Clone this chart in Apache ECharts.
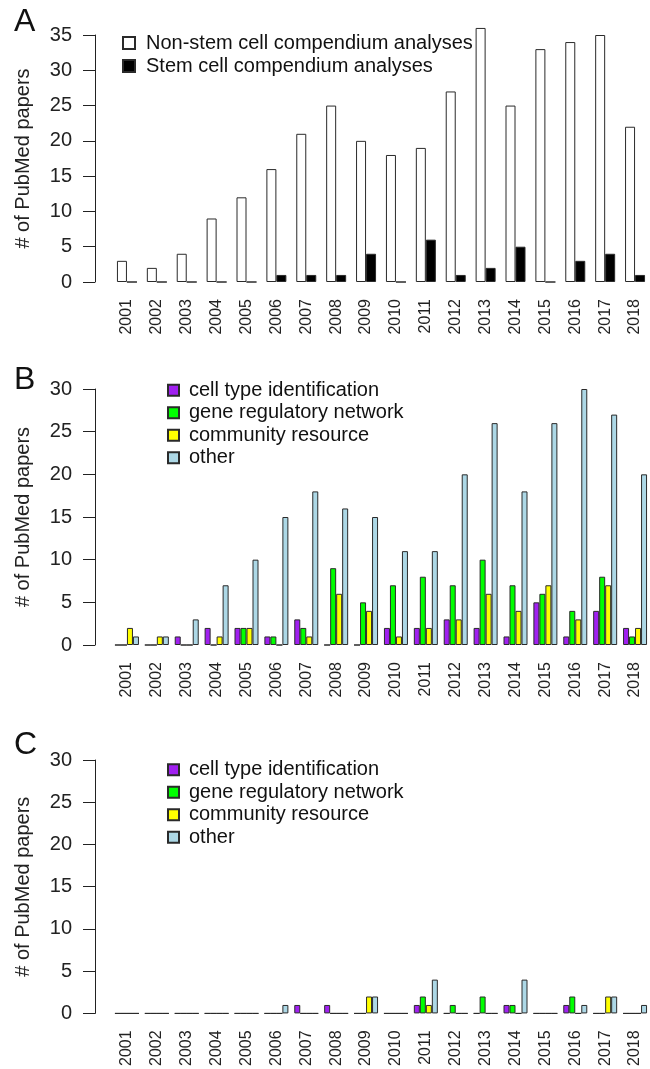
<!DOCTYPE html>
<html><head><meta charset="utf-8">
<script src="https://cdn.jsdelivr.net/npm/echarts@6/dist/echarts.min.js"></script>
<style>html,body{margin:0;padding:0;background:#fff}#c{width:650px;height:1069px}</style>
</head><body><div id="c"></div>
<script>
const years = ['2001','2002','2003','2004','2005','2006','2007','2008','2009','2010','2011','2012','2013','2014','2015','2016','2017','2018'];
// Panel A
const nonStemPapers = [3,2,4,9,12,16,21,25,20,18,19,27,36,25,33,34,35,22];
const stemPapers    = [0,0,0,0,0,1,1,1,4,0,6,1,2,5,0,3,4,1];
// Panel B (non-stem cell compendium analyses by type)
const bCellType   = [0,0,1,2,2,1,3,0,0,2,2,3,2,1,5,1,4,2];
const bGeneReg    = [0,0,0,0,2,1,2,9,5,7,8,7,10,7,6,4,8,1];
const bCommunity  = [2,1,0,1,2,0,1,6,4,1,2,3,6,4,7,3,7,2];
const bOther      = [1,1,3,7,10,15,18,16,15,11,11,20,26,18,26,30,27,20];
// Panel C (stem cell compendium analyses by type)
const cCellType   = [0,0,0,0,0,0,1,1,0,0,1,0,0,1,0,1,0,0];
const cGeneReg    = [0,0,0,0,0,0,0,0,0,0,2,1,2,1,0,2,0,0];
const cCommunity  = [0,0,0,0,0,0,0,0,2,0,1,0,0,0,0,0,2,0];
const cOther      = [0,0,0,0,0,1,0,0,2,0,4,0,0,4,0,1,2,1];
const legendA = ['Non-stem cell compendium analyses','Stem cell compendium analyses'];
const typeNames = ['cell type identification','gene regulatory network','community resource','other'];
const typeColors = ['#A020F0','#00FF00','#FFFF00','#ADD8E6'];
const yMaxA = 35, yMaxB = 30, yMaxC = 30;
const panelLetters = ['A','B','C'];

const FONT = "'Liberation Sans', Arial, Helvetica, sans-serif";
const BORDER = '#2a2a2a';
const chart = echarts.init(document.getElementById('c'), null, {renderer:'canvas'});

const grids = [
  {left:112, top:35,  width:540, height:247},
  {left:112, top:389, width:540, height:256},
  {left:112, top:760, width:540, height:257}
];
function xAxisFor(i){
  return {type:'category', gridIndex:i, data:years, boundaryGap:true,
    axisLine:{show:false}, axisTick:{show:false},
    axisLabel:{rotate:90, interval:0, fontSize:16, margin:17, color:'#222', fontFamily:FONT}};
}
function yAxisFor(i, max){
  return {type:'value', gridIndex:i, min:0, max:max, interval:5, offset:17,
    name:'# of PubMed papers', nameLocation:'middle', nameRotate:90, nameGap:62,
    nameTextStyle:{fontSize:20, color:'#222', fontFamily:FONT},
    axisLine:{show:true, lineStyle:{color:'#222', width:1}},
    axisTick:{show:true, inside:false, length:12, lineStyle:{color:'#222', width:1}},
    axisLabel:{fontSize:20, margin:23, color:'#222', fontFamily:FONT},
    splitLine:{show:false}};
}
const series = [
  {name:legendA[0], type:'bar', xAxisIndex:0, yAxisIndex:0, data:nonStemPapers, barWidth:10, barGap:'0%', clip:false,
   itemStyle:{color:'#fff', borderColor:BORDER, borderWidth:1}},
  {name:legendA[1], type:'bar', xAxisIndex:0, yAxisIndex:0, data:stemPapers, barWidth:10, barGap:'0%', clip:false,
   itemStyle:{color:'#000', borderColor:BORDER, borderWidth:1}}
];
const bData = [bCellType,bGeneReg,bCommunity,bOther];
const cData = [cCellType,cGeneReg,cCommunity,cOther];
[bData, cData].forEach((arr, p) => {
  arr.forEach((d, k) => {
    series.push({name:typeNames[k], type:'bar', xAxisIndex:p+1, yAxisIndex:p+1, data:d,
      barWidth:6, barGap:'0%', itemStyle:{color:typeColors[k], borderColor:BORDER, borderWidth:1}});
  });
});
function legendFor(names, left, top, size, lh, pad){
  return {data:names, orient:'vertical', left:left, top:top, itemWidth:size, itemHeight:size, itemGap:0,
    icon:'rect', selectedMode:false,
    textStyle:{fontSize:20, lineHeight:lh, color:'#111', fontFamily:FONT, padding:[0,0,0,pad]}};
}
const letterY = [22.5, 380, 745];
const option = {
  animation:false,
  backgroundColor:'#fff',
  grid:grids,
  xAxis:[xAxisFor(0), xAxisFor(1), xAxisFor(2)],
  yAxis:[yAxisFor(0,yMaxA), yAxisFor(1,yMaxB), yAxisFor(2,yMaxC)],
  legend:[
    legendFor(legendA, 117, 26.5, 12, 23, 6),
    legendFor(typeNames, 162, 374, 11, 22.5, 5),
    legendFor(typeNames, 162, 753.5, 11, 22.5, 5)
  ],
  graphic: panelLetters.map((t,i) => ({type:'text', left:14, top:letterY[i]-16,
    style:{text:t, fontSize:32, fontFamily:FONT, fill:'#111', lineHeight:32}})),
  series:series
};
chart.setOption(option);
</script></body></html>
